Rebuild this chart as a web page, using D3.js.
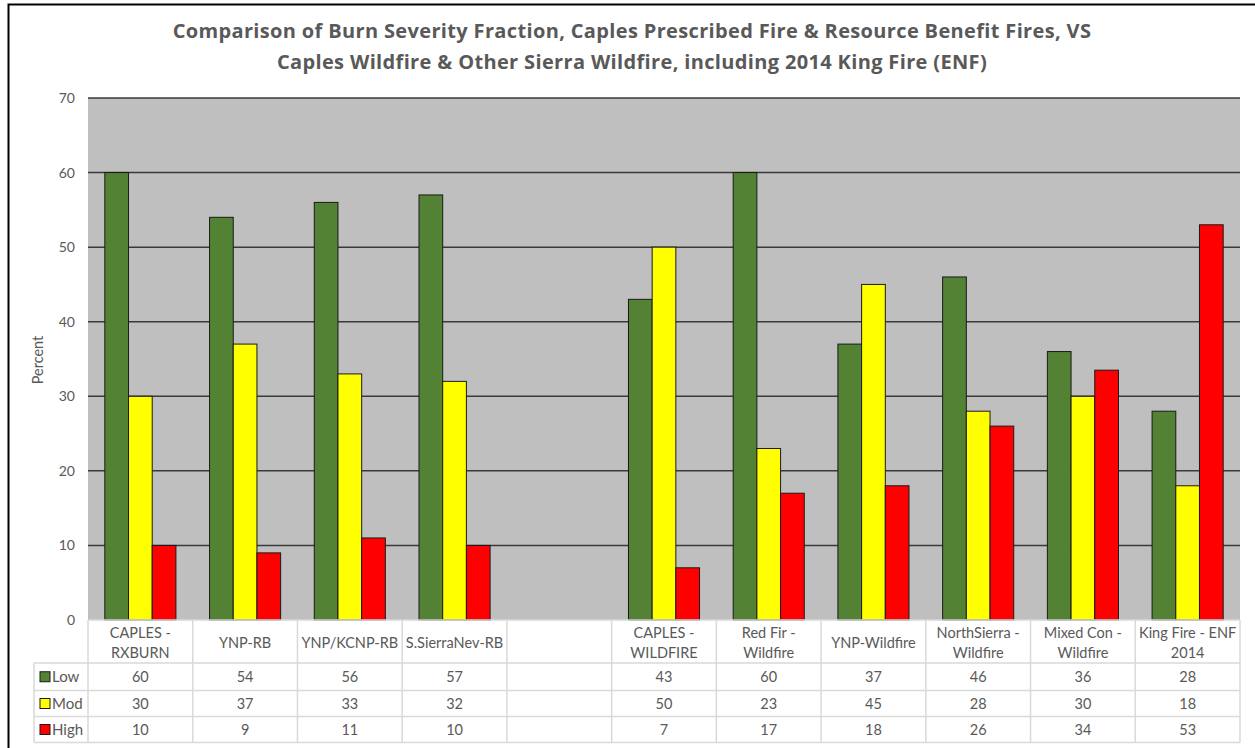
<!DOCTYPE html>
<html>
<head>
<meta charset="utf-8">
<script src="https://cdn.jsdelivr.net/npm/d3@7"></script>
<style>
  body { margin: 0; background: #fff; }
  svg { display: block; font-family: Lato, "Open Sans", sans-serif; }
</style>
</head>
<body>
<svg id="chart" width="1255" height="748"></svg>
<script>
// chart data
var categories = ["CAPLES -\nRXBURN", "YNP-RB", "YNP/KCNP-RB", "S.SierraNev-RB", "",
  "CAPLES -\nWILDFIRE", "Red Fir -\nWildfire", "YNP-Wildfire", "NorthSierra -\nWildfire",
  "Mixed Con -\nWildfire", "King Fire - ENF\n2014"];
var series = ["Low", "Mod", "High"];
var lowVals = [60, 54, 56, 57, null, 43, 60, 37, 46, 36, 28];
var modVals = [30, 37, 33, 32, null, 50, 23, 45, 28, 30, 18];
var highVals = [10, 9, 11, 10, null, 7, 17, 18, 26, 33.5, 53];
var yTicks = [0, 10, 20, 30, 40, 50, 60, 70];
var titleLines = ["Comparison of Burn Severity Fraction, Caples Prescribed Fire & Resource Benefit Fires, VS",
  "Caples Wildfire & Other Sierra Wildfire, including 2014 King Fire (ENF)"];

var colors = {"Low": "#548235", "Mod": "#ffff00", "High": "#ff0000"};
var valuesBySeries = {"Low": lowVals, "Mod": modVals, "High": highVals};

var svg = d3.select("#chart");

// outer frame (only top/left visible in the picture)
svg.append("rect")
  .attr("x", 8.5).attr("y", 4.5)
  .attr("width", 1260).attr("height", 760)
  .attr("fill", "none").attr("stroke", "#000").attr("stroke-width", 2);

// title
svg.append("g").selectAll("text")
  .data(titleLines)
  .enter().append("text")
  .attr("x", 632)
  .attr("y", function(d, i) { return 38 + i * 31; })
  .attr("text-anchor", "middle")
  .attr("font-family", "'Open Sans', sans-serif")
  .attr("font-size", 20)
  .attr("letter-spacing", 0.35)
  .attr("font-weight", "bold")
  .attr("fill", "#595959")
  .text(function(d) { return d; });

var plotLeft = 88, plotRight = 1240, plotTop = 98, plotBottom = 620;

var x = d3.scaleBand().domain(d3.range(categories.length)).range([plotLeft, plotRight]);
var xs = d3.scaleBand().domain(series).range([0, x.bandwidth()]).paddingInner(0).paddingOuter(0.71);
var y = d3.scaleLinear().domain([0, 70]).range([plotBottom, plotTop]);

// plot background
svg.append("rect")
  .attr("x", plotLeft).attr("y", plotTop)
  .attr("width", plotRight - plotLeft).attr("height", plotBottom - plotTop)
  .attr("fill", "#bfbfbf");

// gridlines
svg.append("g").selectAll("line")
  .data(yTicks.filter(function(d) { return d > 0; }))
  .enter().append("line")
  .attr("x1", plotLeft).attr("x2", plotRight)
  .attr("y1", function(d) { return y(d); })
  .attr("y2", function(d) { return y(d); })
  .attr("stroke", "#3a3a3a").attr("stroke-width", 1.5);

// y axis labels
var yAxis = d3.axisLeft(y).tickValues(yTicks).tickSize(0).tickPadding(13);
var yg = svg.append("g").attr("transform", "translate(" + plotLeft + ",0)").call(yAxis);
yg.select(".domain").remove();
yg.selectAll("text").attr("font-size", 14).attr("fill", "#595959").attr("font-family", "Lato, sans-serif");

svg.append("text")
  .attr("transform", "translate(43,360) rotate(-90)")
  .attr("text-anchor", "middle")
  .attr("font-size", 14.5)
  .attr("fill", "#595959")
  .text("Percent");

// bars
series.forEach(function(s) {
  svg.append("g").selectAll("rect")
    .data(valuesBySeries[s].map(function(v, i) { return {i: i, v: v}; }).filter(function(d) { return d.v != null; }))
    .enter().append("rect")
    .attr("x", function(d) { return x(d.i) + xs(s); })
    .attr("y", function(d) { return y(d.v); })
    .attr("width", xs.bandwidth())
    .attr("height", function(d) { return y(0) - y(d.v); })
    .attr("fill", colors[s])
    .attr("stroke", "#1a1a1a").attr("stroke-width", 1);
});

// data table
var rowTops = [620, 663, 690.5, 716.5, 742.5];
var tableLeft = 34;
var grid = svg.append("g").attr("stroke", "#d9d9d9").attr("stroke-width", 1.5);

// horizontal lines
rowTops.forEach(function(ry, k) {
  grid.append("line")
    .attr("x1", k === 0 ? plotLeft : tableLeft).attr("x2", plotRight)
    .attr("y1", ry).attr("y2", ry);
});
// vertical lines for category columns
d3.range(categories.length + 1).forEach(function(i) {
  var xx = i < categories.length ? x(i) : plotRight;
  grid.append("line")
    .attr("x1", xx).attr("x2", xx)
    .attr("y1", rowTops[0]).attr("y2", rowTops[4]);
});
grid.append("line")
  .attr("x1", tableLeft).attr("x2", tableLeft)
  .attr("y1", rowTops[1]).attr("y2", rowTops[4]);

// header labels
categories.forEach(function(c, i) {
  var lines = c === "" ? [] : c.split("\n");
  var cx = x(i) + x.bandwidth() / 2;
  var t = svg.append("text")
    .attr("text-anchor", "middle")
    .attr("font-size", 14.5)
    .attr("fill", "#595959");
  lines.forEach(function(l, k) {
    t.append("tspan")
      .attr("x", cx)
      .attr("y", lines.length === 1 ? 648 : 638 + k * 20)
      .text(l);
  });
});

// rows with legend keys and values
series.forEach(function(s, r) {
  var ry0 = rowTops[r + 1], ry1 = rowTops[r + 2];
  var cy = (ry0 + ry1) / 2;
  svg.append("rect")
    .attr("x", 40).attr("y", cy - 5)
    .attr("width", 10).attr("height", 10)
    .attr("fill", colors[s]).attr("stroke", "#1a1a1a").attr("stroke-width", 1);
  svg.append("text")
    .attr("x", 52).attr("y", cy + 5.5)
    .attr("font-size", 15)
    .attr("fill", "#595959")
    .text(s);
  svg.append("g").selectAll("text")
    .data(valuesBySeries[s].map(function(v, i) { return {i: i, v: v}; }).filter(function(d) { return d.v != null; }))
    .enter().append("text")
    .attr("x", function(d) { return x(d.i) + x.bandwidth() / 2; })
    .attr("y", cy + 5.5)
    .attr("text-anchor", "middle")
    .attr("font-size", 14.5)
    .attr("fill", "#595959")
    .text(function(d) { return Math.round(d.v); });
});
</script>
</body>
</html>
